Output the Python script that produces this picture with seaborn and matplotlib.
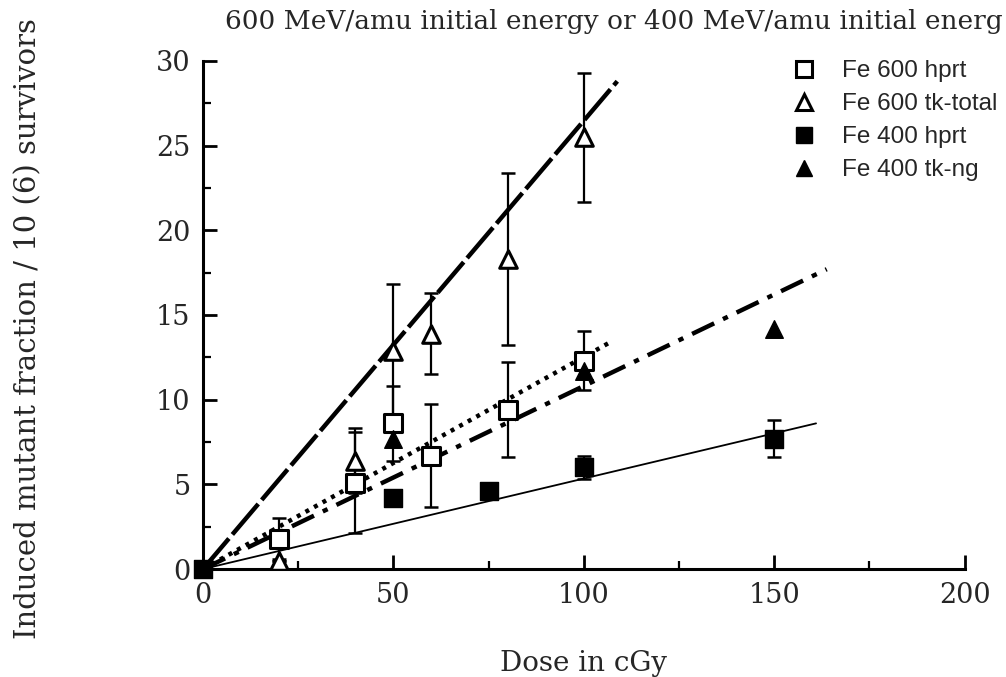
import matplotlib
matplotlib.use("Agg")
import matplotlib.pyplot as plt
import seaborn as sns
from matplotlib.lines import Line2D

# ---------------- data ----------------
dose_600 = [20, 40, 50, 60, 80, 100]
hprt_600 = [1.8, 5.1, 8.6, 6.7, 9.4, 12.3]
hprt_600_err = [1.2, 3.0, 2.2, 3.05, 2.8, 1.75]
tk_600 = [0.5, 6.4, 12.9, 13.9, 18.3, 25.5]
tk_600_err = [0.0, 1.9, 3.9, 2.4, 5.1, 3.8]

dose_400_hprt = [0, 50, 75, 100, 150]
hprt_400 = [0.0, 4.2, 4.6, 6.0, 7.7]
hprt_400_err = [0.0, 0.3, 0.4, 0.7, 1.1]

dose_400_tk = [50, 100, 150]
tk_400 = [7.7, 11.7, 14.2]

# fitted lines (start / end points)
fit_tk600_x = [0, 108.8]
fit_tk600_y = [0, 28.8]
fit_hprt600_x = [0, 107]
fit_hprt600_y = [0, 13.4]
fit_tk400_x = [0, 163.8]
fit_tk400_y = [0, 17.7]
fit_hprt400_x = [0, 161]
fit_hprt400_y = [0, 8.6]

labels = ["Fe 600 hprt", "Fe 600 tk-total", "Fe 400 hprt", "Fe 400 tk-ng"]
x_ticks = [0, 50, 100, 150, 200]
y_ticks = [0, 5, 10, 15, 20, 25, 30]

# the reference shows the title truncated at the right edge
title_text = "600 MeV/amu initial energy or 400 MeV/amu initial energ"
xlabel_text = "Dose in cGy"
ylabel_text = "Induced mutant fraction / 10 (6) survivors"

# ---------------- figure ----------------
sns.set_theme(style="ticks")
plt.rcParams["font.family"] = ["DejaVu Serif"]

fig = plt.figure(figsize=(10.06, 6.77), dpi=100)
ax = fig.add_axes([0.2018, 0.1595, 0.757, 0.7505])

serif = "DejaVu Serif"
sans = "Liberation Sans"

# fit lines
lw_main = 3.2
sns.lineplot(x=fit_tk600_x, y=fit_tk600_y, ax=ax, color="black", lw=lw_main,
             zorder=2)
ax.lines[-1].set_dashes([9, 1.2])
sns.lineplot(x=fit_hprt600_x, y=fit_hprt600_y, ax=ax, color="black", lw=lw_main,
             zorder=2)
ax.lines[-1].set_dashes([0.9, 1.3])
sns.lineplot(x=fit_tk400_x, y=fit_tk400_y, ax=ax, color="black", lw=lw_main,
             zorder=2)
ax.lines[-1].set_dashes([5.5, 2.2, 1.2, 2.2])
sns.lineplot(x=fit_hprt400_x, y=fit_hprt400_y, ax=ax, color="black", lw=1.3,
             zorder=2)

# error bars
eb_kw = dict(fmt="none", ecolor="black", elinewidth=1.6, capsize=5,
             capthick=1.8, zorder=3)
ax.errorbar(dose_600, hprt_600, yerr=hprt_600_err, **eb_kw)
ax.errorbar(dose_600, tk_600, yerr=tk_600_err, **eb_kw)
ax.errorbar(dose_400_hprt, hprt_400, yerr=hprt_400_err, **eb_kw)

# markers
ms = 160
sns.scatterplot(x=dose_600, y=hprt_600, ax=ax, marker="s", s=ms,
                facecolor="white", edgecolor="black", linewidth=2.2, zorder=4)
sns.scatterplot(x=dose_600, y=tk_600, ax=ax, marker="^", s=ms,
                facecolor="white", edgecolor="black", linewidth=2.2, zorder=4)
sns.scatterplot(x=dose_400_hprt, y=hprt_400, ax=ax, marker="s", s=ms,
                facecolor="black", edgecolor="black", linewidth=1, zorder=5,
                clip_on=False)
sns.scatterplot(x=dose_400_tk, y=tk_400, ax=ax, marker="^", s=ms,
                facecolor="black", edgecolor="black", linewidth=1, zorder=5)

# axes styling
ax.set_xlim(0, 200)
ax.set_ylim(0, 30)
ax.set_xticks(x_ticks)
ax.set_yticks(y_ticks)
ax.set_xticks([25, 75, 125, 175], minor=True)
ax.set_yticks([2.5 + 5 * i for i in range(6)], minor=True)
ax.set_xticklabels([str(t) for t in x_ticks], fontfamily=serif, fontsize=19.5)
ax.set_yticklabels([str(t) for t in y_ticks], fontfamily=serif, fontsize=19.5)
ax.tick_params(which="major", direction="in", length=10, width=2, color="black",
               pad=9)
ax.tick_params(which="minor", direction="in", length=6, width=1.6, color="black")
for side in ["top", "right"]:
    ax.spines[side].set_visible(False)
for side in ["left", "bottom"]:
    ax.spines[side].set_linewidth(2.2)
    ax.spines[side].set_color("black")

ax.set_xlabel(xlabel_text, fontfamily=serif, fontsize=20, labelpad=30)
fig.text(0.028, 0.515, ylabel_text, rotation=90, ha="center", va="center",
         fontfamily=serif, fontsize=21)
fig.text(0.224, 0.968, title_text, ha="left", va="center",
         fontfamily=serif, fontsize=19)

# legend
handles = [
    Line2D([], [], ls="none", marker="s", ms=11, mfc="white", mec="black", mew=2.2),
    Line2D([], [], ls="none", marker="^", ms=12, mfc="white", mec="black", mew=2.2),
    Line2D([], [], ls="none", marker="s", ms=11, mfc="black", mec="black"),
    Line2D([], [], ls="none", marker="^", ms=12, mfc="black", mec="black"),
]
ax.legend(handles, labels, loc="upper left", bbox_to_anchor=(0.787, 0.911),
          bbox_transform=fig.transFigure, frameon=False, borderpad=0,
          prop={"family": sans, "size": 17.5}, handlelength=1.0,
          handletextpad=1.05, labelspacing=0.45, borderaxespad=0)

fig.savefig("out.png", dpi=100)
